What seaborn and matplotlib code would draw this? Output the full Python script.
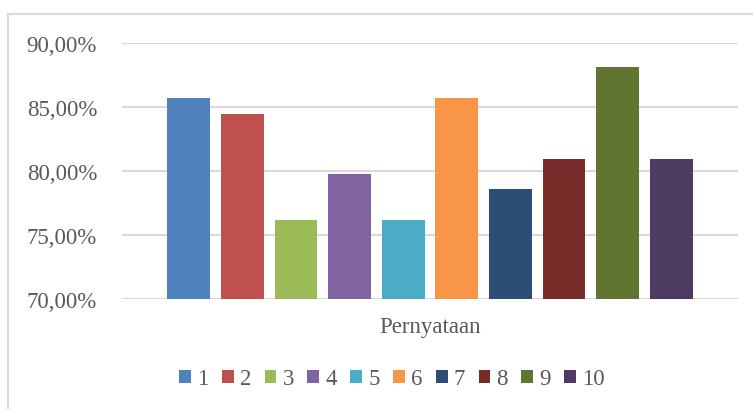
import matplotlib
matplotlib.use("Agg")
import matplotlib.pyplot as plt
import seaborn as sns
import pandas as pd
from matplotlib.patches import Rectangle
from matplotlib.ticker import FuncFormatter

statements = ["1", "2", "3", "4", "5", "6", "7", "8", "9", "10"]
values = [85.71, 84.45, 76.19, 79.76, 76.19, 85.71, 78.57, 80.95, 88.10, 80.95]
category = ["Pernyataan"] * len(statements)
colors = ["#4F81BD", "#C0504D", "#9BBB59", "#8064A2", "#4BACC6",
          "#F79646", "#2C4D75", "#772C2A", "#5F7530", "#4D3B62"]
yticks = [70, 75, 80, 85, 90]

df = pd.DataFrame({"cat": category, "stmt": statements, "val": values})

sns.set_theme(style="white")
plt.rcParams["font.family"] = ["Liberation Serif", "DejaVu Serif"]
text_color = "#595959"
fs = 16.5

fig = plt.figure(figsize=(7.53, 4.10), dpi=100)
ax = fig.add_axes([122 / 753, 1 - 300 / 410, (738 - 122) / 753, (300 - 44) / 410])

sns.barplot(data=df, x="cat", y="val", hue="stmt", hue_order=statements,
            palette=colors, width=536 / 616, gap=0.2, saturation=1,
            edgecolor="none", ax=ax, legend=True)

ax.set_xlim(-0.5, 0.5)
ax.set_ylim(70, 90)
ax.set_yticks(yticks)
ax.yaxis.set_major_formatter(FuncFormatter(lambda v, p: f"{v:.2f}%".replace(".", ",")))
ax.set_axisbelow(True)
ax.yaxis.grid(True, color="#d9d9d9", linewidth=1.5)
ax.xaxis.grid(False)
for s in ax.spines.values():
    s.set_visible(False)
ax.set_xlabel("")
ax.set_ylabel("")
ax.tick_params(axis="y", length=0, pad=18, labelsize=fs, labelcolor=text_color)
ax.tick_params(axis="x", length=0, pad=12, labelsize=fs, labelcolor=text_color)

handles, labels = ax.get_legend_handles_labels()
ax.get_legend().remove()
fig.legend(handles, labels, loc="center", bbox_to_anchor=(392 / 753, 1 - 380 / 410),
           ncol=10, frameon=False, fontsize=fs, handlelength=0.52, handleheight=0.52,
           handletextpad=0.26, columnspacing=0.59, labelcolor=text_color)

fig.patches.append(Rectangle((8 / 753, -0.5), 1.5, 0.5 + (1 - 15 / 410),
                             transform=fig.transFigure, fill=False,
                             edgecolor="#d9d9d9", linewidth=1.5))

fig.savefig("out.png", dpi=100)
